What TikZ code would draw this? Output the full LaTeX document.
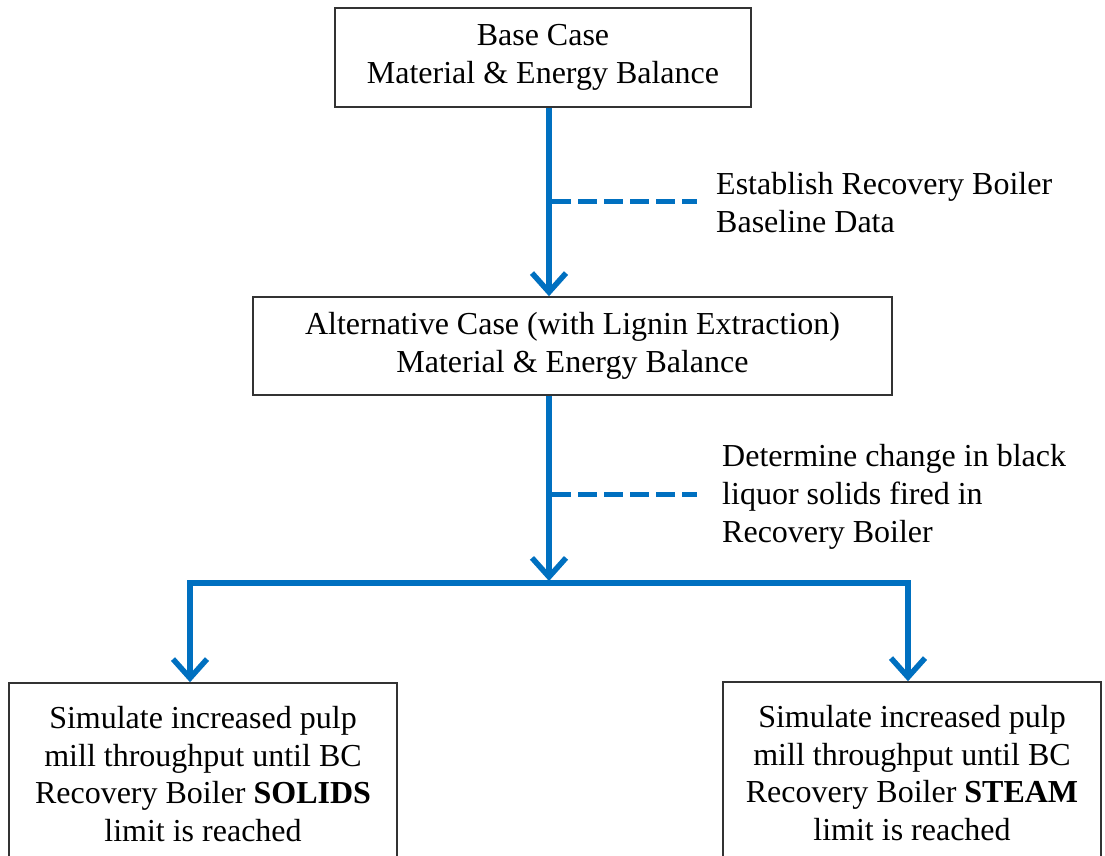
\documentclass[tikz,border=0pt]{standalone}
\usepackage{fontspec}
\setmainfont{Liberation Serif}
\usetikzlibrary{arrows.meta}
\definecolor{flowblue}{RGB}{0,112,192}
\begin{document}
\begin{tikzpicture}[x=1pt,y=-1pt,
  box/.style={draw=black!80, line width=1.6pt, fill=white, align=center,
    font=\fontsize{32}{37.5}\selectfont, inner sep=0pt},
  lbl/.style={align=left, font=\fontsize{32}{38}\selectfont, inner sep=0pt, anchor=west},
  flow/.style={draw=flowblue, line width=5.5pt, line join=miter,
    -{Straight Barb[length=19pt,width=34pt,line width=5.5pt]}},
  dashline/.style={draw=flowblue, line width=5pt, dash pattern=on 19pt off 7pt}]
\clip (0,0) rectangle (1105,856);
\fill[white] (0,0) rectangle (1105,856);
% boxes
\node[box, minimum width=416pt, minimum height=99pt] (base) at (543,57.5)
  {Base Case\\Material \& Energy Balance};
\node[box, minimum width=639pt, minimum height=98pt] (alt) at (572.5,346)
  {Alternative Case (with Lignin Extraction)\\Material \& Energy Balance};
\node[box, minimum width=388pt, minimum height=182pt] (left) at (203,774)
  {Simulate increased pulp\\mill throughput until BC\\Recovery Boiler \textbf{SOLIDS}\\limit is reached};
\node[box, minimum width=378pt, minimum height=182pt] (right) at (912,773)
  {Simulate increased pulp\\mill throughput until BC\\Recovery Boiler \textbf{STEAM}\\limit is reached};
% labels
\node[lbl] (l1) at (716,202.5) {Establish Recovery Boiler\\Baseline Data};
\node[lbl] (l2) at (722,497) {Determine change in black\\liquor solids fired in\\Recovery Boiler};
% coordinates
\coordinate (mx) at (549,0);
\coordinate (d1) at (552,201);
\coordinate (d1e) at (697,201);
\coordinate (d2) at (552,494);
\coordinate (d2e) at (697,494);
\coordinate (split) at (549,583);
\coordinate (jl) at (190,583);
\coordinate (jr) at (908,583);
% connectors
\draw[flow] (base.south -| mx) -- (alt.north -| mx);
\draw[flow, shorten >=2pt] (alt.south -| mx) -- (split);
\draw[flow] (split) -- (jl) -- (jl |- left.north);
\draw[flow] (split) -- (jr) -- (jr |- right.north);
\draw[dashline] (d1) -- (d1e);
\draw[dashline] (d2) -- (d2e);
\end{tikzpicture}
\end{document}
